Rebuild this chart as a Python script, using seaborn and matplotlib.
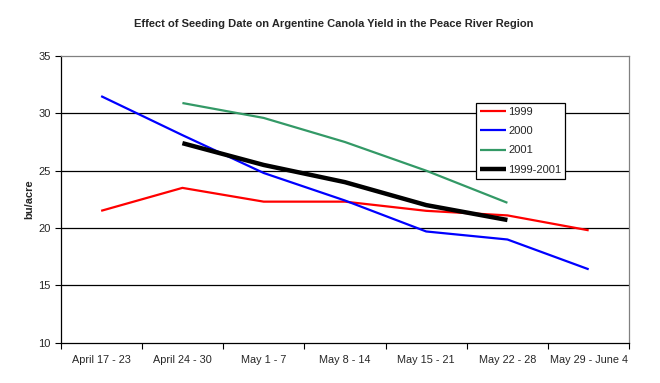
import numpy as np
import pandas as pd
import matplotlib
matplotlib.use("Agg")
import matplotlib.pyplot as plt
import seaborn as sns

categories = ["April 17 - 23", "April 24 - 30", "May 1 - 7", "May 8 - 14",
              "May 15 - 21", "May 22 - 28", "May 29 - June 4"]
y1999 = [21.5, 23.5, 22.3, 22.3, 21.5, 21.1, 19.8]
y2000 = [31.5, 28.1, 24.8, 22.4, 19.7, 19.0, 16.4]
y2001 = [np.nan, 30.9, 29.6, 27.5, 25.0, 22.2, np.nan]
yavg = [np.nan, 27.4, 25.5, 24.0, 22.0, 20.7, np.nan]

series_names = ["1999", "2000", "2001", "1999-2001"]
series_vals = [y1999, y2000, y2001, yavg]
colors = ["#FF0000", "#0000FF", "#339966", "#000000"]
widths = [1.6, 1.6, 1.6, 3.2]

sns.set_theme(style="white")
plt.rcParams['font.family'] = ['Liberation Sans', 'DejaVu Sans']

fig = plt.figure(figsize=(6.6, 3.83), dpi=100)
ax = fig.add_axes([0.0917, 0.1052, 0.8618, 0.7486])

pos = np.arange(len(categories))
for name, vals, c, lw in zip(series_names, series_vals, colors, widths):
    df = pd.DataFrame({"x": pos, "y": vals}).dropna()
    sns.lineplot(data=df, x="x", y="y", ax=ax, color=c, linewidth=lw,
                 label=name, solid_capstyle="butt")

ax.set_xlim(-0.5, len(categories) - 0.5)
ax.set_ylim(10, 35)
ax.set_yticks([10, 15, 20, 25, 30, 35])
ax.set_yticklabels(["10", "15", "20", "25", "30", "35"], fontsize=8)
for yv in [15, 20, 25, 30]:
    ax.axhline(yv, color="black", linewidth=0.9, zorder=0)

ax.set_xticks(pos)
ax.set_xticklabels(categories, fontsize=7.8)
ax.set_xticks(np.arange(-0.5, len(categories)), minor=True)
ax.tick_params(axis="x", which="major", length=0, pad=9)
ax.tick_params(axis="x", which="minor", length=4, width=0.8, color="black", direction="out")
ax.tick_params(axis="y", length=4, width=0.8, color="black", direction="out", pad=3)
ax.xaxis.set_ticks_position("bottom")
ax.yaxis.set_ticks_position("left")

ax.set_xlabel("")
ax.set_ylabel("bu/acre", fontsize=8, fontweight="bold", labelpad=3)

for side in ["left", "bottom"]:
    ax.spines[side].set_color("black")
    ax.spines[side].set_linewidth(0.9)
for side in ["top", "right"]:
    ax.spines[side].set_color("#808080")
    ax.spines[side].set_linewidth(0.9)

ax.set_title("Effect of Seeding Date on Argentine Canola Yield in the Peace River Region",
             fontsize=8, fontweight="bold", pad=21, x=0.48)

leg = ax.legend(loc="upper left", bbox_to_anchor=(0.7305, 0.837), fontsize=8,
                frameon=True, fancybox=False, framealpha=1, edgecolor="black",
                handlelength=2.35, handletextpad=0.15, borderpad=0.38,
                labelspacing=0.83, borderaxespad=0)
leg.get_frame().set_linewidth(0.9)

fig.savefig("out.png", dpi=100)
